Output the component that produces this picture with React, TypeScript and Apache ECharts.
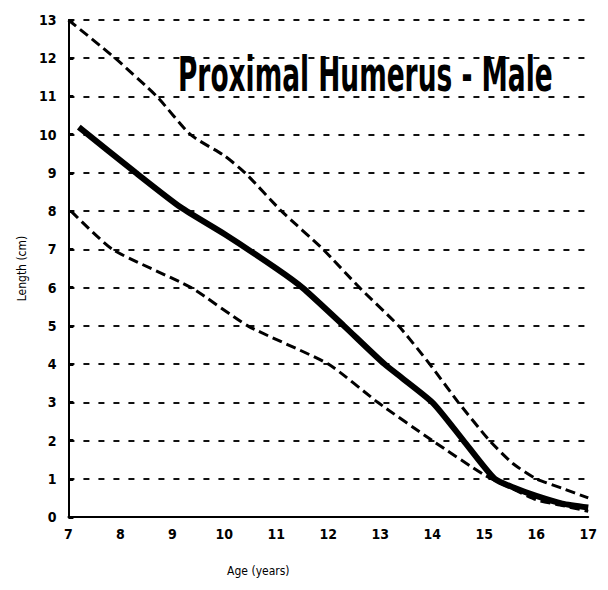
import React, { useEffect, useRef } from "react";
import * as echarts from "echarts";

const upperAge = [7.0, 7.9, 8.7, 9.35, 10.0, 10.4, 11.1, 11.9, 12.6, 13.35, 13.95, 14.5, 15.1, 15.55, 16.0, 16.5, 17.0];
const upperLen = [13.0, 12.0, 11.0, 10.0, 9.45, 9.0, 8.0, 7.0, 6.0, 5.0, 4.0, 3.0, 2.0, 1.4, 1.0, 0.75, 0.5];

const meanAge = [7.2, 8.3, 9.16, 10.0, 11.0, 11.5, 12.3, 13.08, 14.0, 14.6, 15.2, 15.6, 16.0, 16.5, 17.0];
const meanLen = [10.2, 9.0, 8.1, 7.4, 6.5, 6.0, 5.0, 4.0, 3.0, 2.0, 1.0, 0.75, 0.55, 0.35, 0.25];

const lowerAge = [7.05, 7.85, 9.36, 10.45, 12.0, 12.95, 14.0, 15.0, 15.6, 16.0, 16.5, 17.0];
const lowerLen = [8.0, 7.0, 6.0, 5.0, 4.0, 3.0, 2.0, 1.1, 0.7, 0.45, 0.3, 0.15];

const titleText = "Proximal Humerus - Male";
const xName = "Age (years)";
const yName = "Length (cm)";

const pairs = (xs: number[], ys: number[]) => xs.map((x, i) => [x, ys[i]]);

export default function App() {
  const ref = useRef<HTMLDivElement>(null);
  useEffect(() => {
    if (!ref.current) return;
    const chart = echarts.init(ref.current, null, { renderer: "svg" });
    const labelFont = "'Liberation Sans Narrow', 'DejaVu Sans Condensed', 'Liberation Sans', sans-serif";
    chart.setOption({
      animation: false,
      backgroundColor: "#ffffff",
      grid: { left: 59, right: 3, top: 12, bottom: 54, containLabel: false },
      xAxis: {
        type: "value",
        min: 7,
        max: 17,
        interval: 1,
        name: xName,
        nameLocation: "middle",
        nameGap: 48,
        nameTextStyle: { fontFamily: labelFont, fontSize: 12, color: "#000", padding: [0, 0, 0, -140] },
        axisLine: { show: true, lineStyle: { color: "#000", width: 2 } },
        axisTick: { show: false },
        axisLabel: { color: "#000", fontSize: 14, fontWeight: "bold", fontFamily: labelFont, margin: 10 },
        splitLine: { show: false },
      },
      yAxis: {
        type: "value",
        min: 0,
        max: 13,
        interval: 1,
        name: yName,
        nameLocation: "middle",
        nameGap: 34,
        nameRotate: 90,
        nameTextStyle: { fontFamily: labelFont, fontSize: 12, color: "#000" },
        axisLine: { show: true, lineStyle: { color: "#000", width: 2 } },
        axisTick: { show: true, inside: true, length: 5, lineStyle: { color: "#000", width: 3 } },
        axisLabel: { color: "#000", fontSize: 14, fontWeight: "bold", fontFamily: labelFont, margin: 12 },
        splitLine: { show: true, lineStyle: { color: "#111", width: 2, type: [6, 9] } },
      },
      graphic: [
        {
          type: "text",
          x: 170,
          y: 42,
          scaleX: 0.612,
          style: {
            text: titleText,
            fontFamily: labelFont,
            fontWeight: "bold",
            fontSize: 48,
            fill: "#000",
          },
          z: 10,
        },
      ],
      series: [
        {
          type: "line",
          data: pairs(upperAge, upperLen),
          showSymbol: false,
          smooth: 0.2,
          lineStyle: { color: "#000", width: 3, type: [10, 5] },
          z: 3,
        },
        {
          type: "line",
          data: pairs(meanAge, meanLen),
          showSymbol: false,
          smooth: 0.2,
          lineStyle: { color: "#000", width: 6 },
          z: 4,
        },
        {
          type: "line",
          data: pairs(lowerAge, lowerLen),
          showSymbol: false,
          smooth: 0.2,
          lineStyle: { color: "#000", width: 3, type: [10, 5] },
          z: 3,
        },
      ],
    });
    return () => chart.dispose();
  }, []);
  return <div ref={ref} style={{ width: 592, height: 574 }} />;
}
